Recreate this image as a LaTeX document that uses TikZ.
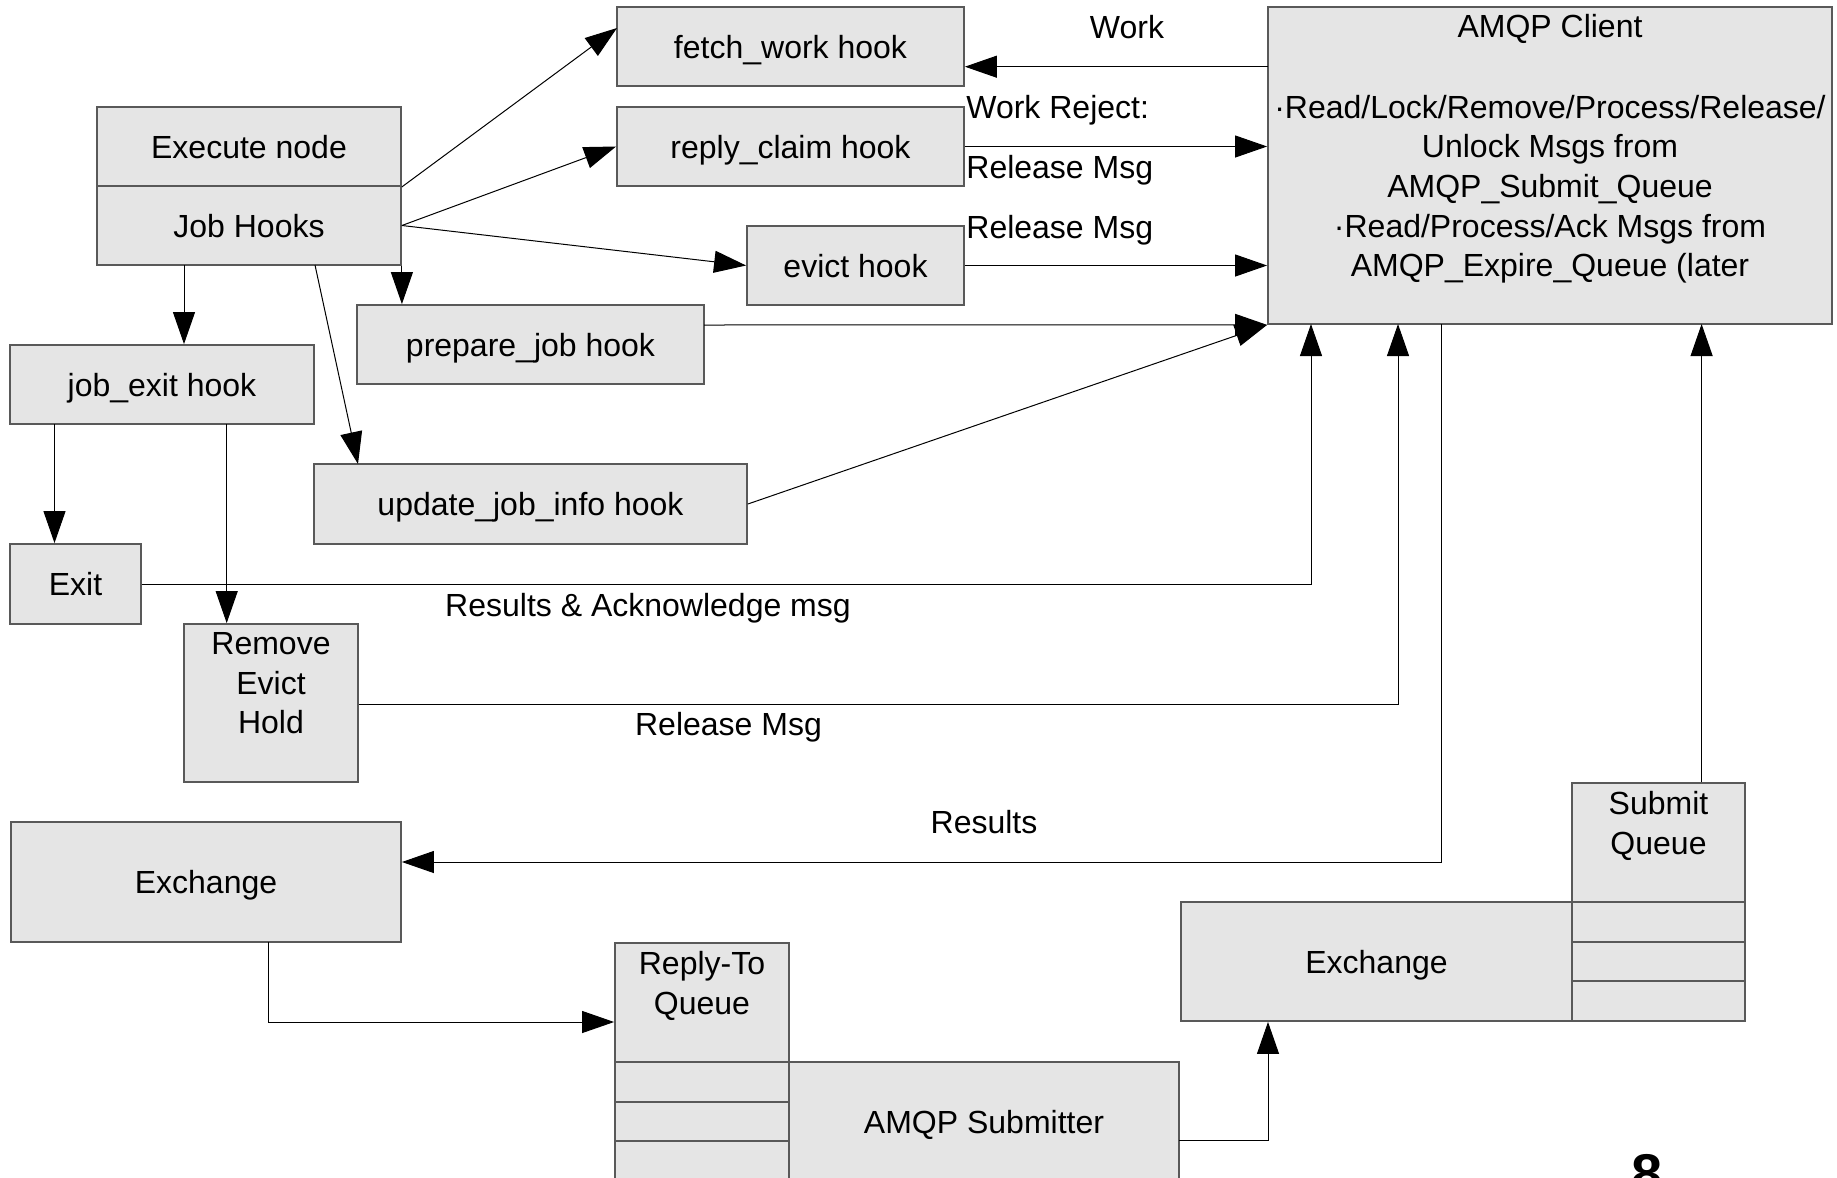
\documentclass[tikz,border=0pt]{standalone}
\usepackage{fontspec}
\setmainfont{Liberation Sans}
\usetikzlibrary{arrows.meta}
\begin{document}
\begin{tikzpicture}[x=0.5pt,y=-0.5pt,
  box/.style={draw=black!65, line width=0.9pt, fill=black!10, inner sep=0pt,
    font=\fontsize{16}{19.8}\selectfont, align=center},
  one/.style={text height=12pt, text depth=0.5pt},
  conn/.style={draw=black, line width=0.5pt, -{Triangle[length=16pt,width=11pt]}},
  wire/.style={draw=black, line width=0.5pt},
  lbl/.style={font=\fontsize{16}{19.8}\selectfont, inner sep=0pt, text height=12pt, text depth=0.5pt}]
\useasboundingbox (0,0) rectangle (1837,1178);
\clip (0,0) rectangle (1837,1178);
% boxes
\node[box, one, minimum width=173.5pt, minimum height=39.5pt] (fetch) at (790.5,46.5) {fetch\_work hook};
\node[box, one, minimum width=173.5pt, minimum height=39.5pt] (reply) at (790.5,146.5) {reply\_claim hook};
\node[box, one, minimum width=108.5pt, minimum height=39.5pt] (evict) at (855.5,265.5) {evict hook};
\node[box, one, minimum width=152pt, minimum height=39.5pt] (exec) at (249,146.5) {Execute node};
\node[box, one, minimum width=152pt, minimum height=39.5pt] (hooks) at (249,225.5) {Job Hooks};
\node[box, one, minimum width=173.5pt, minimum height=39.5pt] (prepare) at (530.5,344.5) {prepare\_job hook};
\node[box, one, minimum width=152pt, minimum height=39.5pt] (jobexit) at (162,384.5) {job\_exit hook};
\node[box, one, minimum width=216.5pt, minimum height=40pt] (update) at (530.5,504) {update\_job\_info hook};
\node[box, one, minimum width=65.5pt, minimum height=40pt] (exit) at (75.5,584) {Exit};
\node[box, minimum width=87pt, minimum height=79pt] (remove) at (271,703) {Remove\\Evict\\Hold\\~};
\node[box, minimum width=282pt, minimum height=158.5pt] (amqp) at (1550,165.5)
  {AMQP Client\\[20.5pt]·Read/Lock/Remove/Process/Release/\\Unlock Msgs from\\AMQP\_Submit\_Queue\\·Read/Process/Ack Msgs from\\AMQP\_Expire\_Queue (later\\~};
\node[box, one, minimum width=195pt, minimum height=60pt] (exchA) at (206,882) {Exchange};
% reply-to queue
\node[box, minimum width=87pt, minimum height=59.5pt] (rq) at (702,1002.5) {Reply-To\\Queue\\~};
\node[box, minimum width=87pt, minimum height=20pt] (rq1) at (702,1082) {};
\node[box, minimum width=87pt, minimum height=19.5pt] (rq2) at (702,1121.5) {};
\node[box, minimum width=87pt, minimum height=20pt] (rq3) at (702,1161) {};
\node[box, one, minimum width=195pt, minimum height=59.5pt] (submitter) at (984,1121.5) {AMQP Submitter};
% exchange + submit queue
\node[box, one, minimum width=195.5pt, minimum height=59.5pt] (exchB) at (1376.5,961.5) {Exchange};
\node[box, minimum width=86.5pt, minimum height=59.5pt] (sq) at (1658.5,842.5) {Submit\\Queue\\~};
\node[box, minimum width=86.5pt, minimum height=20pt] (sq1) at (1658.5,922) {};
\node[box, minimum width=86.5pt, minimum height=19.5pt] (sq2) at (1658.5,961.5) {};
\node[box, minimum width=86.5pt, minimum height=20pt] (sq3) at (1658.5,1001) {};
% connectors from execute node
\coordinate (fetchin) at (617,28);
\draw[conn] (exec.south east) -- (fetchin);
\draw[conn] (hooks.east) -- (reply.west);
\draw[conn] (hooks.east) -- (evict.west);
\draw[conn] (hooks.south east) -- (hooks.south east |- prepare.north);
\coordinate (hA) at (184,265);
\draw[conn] (hA) -- (hA |- jobexit.north);
\coordinate (hB) at (315,265);
\coordinate (updin) at (358,464);
\draw[conn] (hB) -- (updin);
\coordinate (jA) at (54.5,424);
\draw[conn] (jA) -- (jA |- exit.north);
\coordinate (jB) at (226.7,424);
\draw[conn] (jB) -- (jB |- remove.north);
% into AMQP client
\coordinate (workout) at (1268,66.7);
\draw[conn] (workout) -- (workout -| fetch.east);
\draw[conn] (reply.east) -- (reply.east -| amqp.west);
\draw[conn] (evict.east) -- (evict.east -| amqp.west);
\coordinate (prepout) at (704,325);
\draw[conn] (prepout) -- (amqp.south west);
\draw[conn] (update.east) -- (amqp.south west);
\coordinate (bA) at (1311,324);
\draw[conn] (exit.east) -| (bA);
\coordinate (bB) at (1398,324);
\draw[conn] ([yshift=-0.5pt]remove.east) -| (bB);
\coordinate (bC) at (1441,324);
\coordinate (resY) at (1441,862);
\draw[conn] (bC) -- (resY) -- (resY -| exchA.east);
\coordinate (bD) at (1701.6,324);
\draw[conn] (bD |- sq.north) -- (bD);
% bottom flows
\coordinate (eA) at (268.5,942);
\coordinate (eAturn) at (268.5,1022);
\draw[conn] (eA) -- (eAturn) -- (eAturn -| rq.west);
\coordinate (subout) at (1179,1140);
\coordinate (subturn) at (1268,1140);
\draw[conn] (subout) -- (subturn) -- (subturn |- exchB.south);
% labels
\node[lbl] (lwork) at (1127,27) {Work};
\node[lbl, anchor=west] (lreject) at (966,107) {Work Reject:};
\node[lbl, anchor=west] (lrel1) at (966,167) {Release Msg};
\node[lbl, anchor=west] (lrel2) at (966,227) {Release Msg};
\node[lbl] (lresack) at (648,605) {Results \& Acknowledge msg};
\node[lbl] (lrel3) at (728.5,724) {Release Msg};
\node[lbl] (lres) at (984,822) {Results};
\node[font=\fontsize{28}{32}\selectfont\bfseries, inner sep=0pt, anchor=base] (pagenum) at (1647,1193) {8};
\end{tikzpicture}
\end{document}
